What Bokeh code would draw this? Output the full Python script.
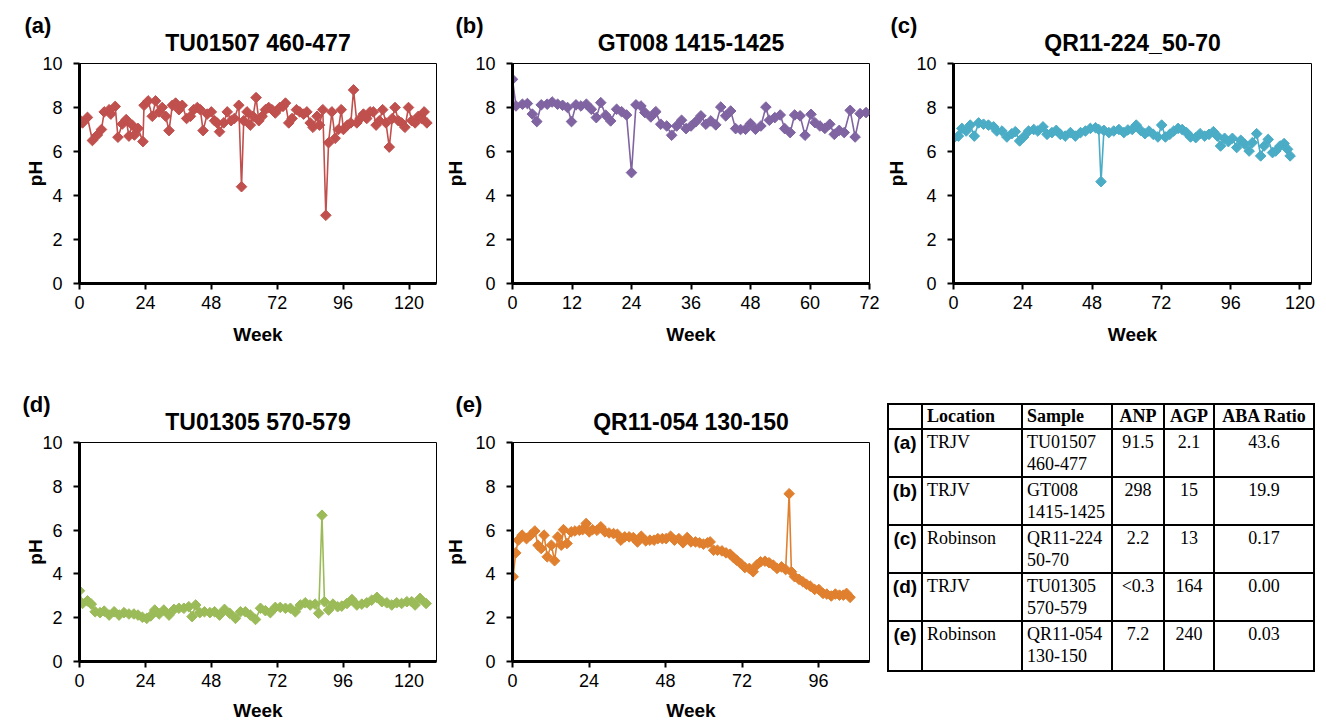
from bokeh.plotting import figure
from bokeh.layouts import row, column
from bokeh.models import Range1d, FixedTicker, Title, Div, LinearAxis
from bokeh.embed import file_html
from bokeh.resources import INLINE

# ---------------- data ----------------
a_week = [0, 1.1, 2.9, 4.7, 6.5, 8.0, 9.0, 10.8, 11.4, 13.0,
          14.0, 15.6, 17.0, 18.0, 19.2, 20.0, 21.3, 23.1, 23.5, 25.0,
          26.5, 27.7, 29.0, 30.1, 31.4, 32.6, 33.8, 35.0, 36.2, 37.4,
          39.0, 40.4, 41.6, 42.9, 44.0, 45.0, 46.5, 48.0, 49.2, 50.1,
          51.0, 52.5, 53.8, 55.2, 56.4, 58.0, 59.0, 59.8, 61.0, 62.2,
          63.2, 64.3, 65.3, 66.5, 67.7, 68.9, 70.1, 71.3, 72.9, 74.1,
          75.0, 76.2, 77.4, 79.0, 80.2, 81.6, 82.8, 84.0, 85.0, 86.5,
          87.4, 88.6, 89.7, 90.7, 91.9, 93.1, 94.3, 95.3, 96.1, 97.6,
          98.8, 99.8, 101.0, 102.2, 103.4, 104.6, 105.8, 107.0, 108.0, 109.2,
          110.4, 111.6, 112.8, 113.9, 114.9, 116.1, 117.3, 118.5, 119.8, 121.0,
          122.2, 123.4, 124.6, 125.5, 126.5]
a_ph = [7.45, 7.3, 7.55, 6.5, 6.75, 7.0, 7.8, 7.9, 7.7, 8.05,
        6.65, 7.25, 7.45, 6.7, 7.2, 6.75, 7.05, 6.45, 8.1, 8.3,
        7.6, 8.3, 7.8, 8.0, 7.6, 6.95, 8.1, 8.2, 7.9, 8.1,
        7.5, 7.6, 7.9, 8.0, 7.9, 6.95, 7.7, 7.8, 7.4, 7.3,
        6.9, 7.3, 7.8, 7.4, 7.5, 8.1, 4.4, 7.4, 7.8, 7.2,
        7.6, 8.45, 7.4, 7.6, 7.9, 8.0, 7.9, 7.75, 8.0, 8.05,
        8.2, 7.3, 7.5, 7.9, 7.8, 7.7, 7.8, 7.3, 7.1, 7.6,
        7.2, 7.9, 3.1, 6.4, 7.8, 6.6, 7.0, 7.9, 7.0, 7.2,
        7.3, 8.8, 7.3, 7.5, 7.7, 7.5, 7.8, 7.8, 7.2, 7.4,
        7.9, 7.3, 6.2, 7.5, 8.0, 7.4, 7.3, 7.1, 8.0, 7.4,
        7.3, 7.6, 7.5, 7.8, 7.3]

b_week = [0, 0.7, 2, 3, 4, 4.9, 5.8, 7, 8, 9.1,
          10.1, 11.1, 11.9, 12.8, 13.8, 14.9, 15.9, 16.9, 17.8, 18.8,
          19.8, 21, 22, 23, 24, 24.9, 25.9, 26.7, 27.9, 28.9,
          29.9, 31.1, 32.1, 33.1, 34.1, 35, 36, 37, 38, 39,
          40, 41, 42, 43, 44, 45, 46, 47, 48, 49,
          50.1, 51.1, 51.8, 52.9, 54, 54.9, 56, 56.9, 58, 59,
          60.2, 61, 62, 63, 64, 64.9, 65.9, 66.9, 68.1, 69.1,
          70.1, 71.3]
b_ph = [9.28, 8.07, 8.15, 8.18, 7.7, 7.36, 8.12, 8.15, 8.25, 8.15,
        8.1, 8.0, 7.36, 8.12, 8.07, 8.15, 7.92, 7.54, 8.22, 7.65,
        7.39, 7.92, 7.81, 7.66, 5.04, 8.12, 8.07, 7.77, 7.57, 7.81,
        7.24, 7.16, 6.74, 7.16, 7.42, 7.04, 7.16, 7.36, 7.62, 7.24,
        7.39, 7.21, 8.02, 7.62, 7.84, 7.04, 7.0, 7.01, 7.27, 7.01,
        7.16, 8.02, 7.42, 7.54, 7.66, 7.04, 6.86, 7.66, 7.62, 6.74,
        7.69, 7.31, 7.16, 7.05, 7.24, 6.78, 6.96, 6.86, 7.87, 6.66,
        7.72, 7.77]

c_week = [0, 1.7, 2.9, 4.4, 5.8, 7.2, 8.7, 10.4, 12.1, 13.9,
          15, 16.8, 18.5, 20.2, 21.4, 22.9, 24.3, 26, 27.8, 29.2,
          31, 32.4, 34.1, 35.6, 37, 38.7, 40.5, 42.2, 44, 45.7,
          47.4, 49.2, 50.3, 51.1, 52.1, 53.8, 55.5, 57.3, 59, 60.4,
          61.9, 63.3, 64.8, 66.3, 67.7, 69.2, 70.8, 72.1, 73.4, 74.9,
          76.3, 77.8, 79.2, 80.7, 82.1, 83.9, 85.4, 87, 88.5, 90,
          91.4, 92.5, 93.9, 95.2, 96.6, 98.1, 99.5, 100.9, 102.4, 103.5,
          105, 106.4, 107.6, 109, 110.5, 111.6, 113.1, 114.5, 115.7, 116.6]
c_ph = [6.6, 6.7, 7.05, 6.93, 7.2, 6.7, 7.3, 7.24, 7.2, 7.12,
        6.93, 6.93, 6.66, 6.81, 6.9, 6.48, 6.66, 6.93, 7.0, 6.93,
        7.12, 6.78, 6.86, 6.96, 6.78, 6.7, 6.86, 6.7, 6.86, 6.93,
        7.05, 7.08, 7.0, 4.63, 6.96, 6.86, 6.93, 7.0, 6.86, 6.98,
        7.0, 7.2, 6.96, 6.81, 6.93, 6.78, 6.66, 7.2, 6.66, 6.78,
        6.93, 7.05, 7.0, 6.86, 6.66, 6.63, 6.81, 6.7, 6.78, 6.9,
        6.7, 6.25, 6.6, 6.45, 6.6, 6.18, 6.51, 6.33, 6.02, 6.4,
        6.81, 5.8, 6.25, 6.55, 5.95, 6.02, 6.25, 6.36, 6.1, 5.8]

d_week = [0, 1.1, 2.9, 4.3, 5.7, 7.5, 9, 10.8, 12.6, 14.4,
          16.2, 18, 19.8, 21.3, 22.9, 24.5, 25.9, 27.4, 29, 30.7,
          32.6, 34.4, 36.2, 38, 39.8, 41, 42.3, 43.8, 45.5, 47.5,
          49.2, 51, 52.8, 54.7, 56.8, 58.6, 60.4, 62.2, 64.1, 65.9,
          67.7, 69.5, 71.3, 73.1, 75, 76.8, 78.6, 80.4, 82.2, 84,
          85.8, 87.1, 88.3, 89.2, 90.7, 92.3, 94, 95.5, 97.4, 99.2,
          101, 102.8, 104.6, 106.4, 108.3, 110.1, 111.9, 113.7, 115.5, 117.3,
          119.2, 121, 122.2, 124, 126.2]
d_ph = [3.23, 2.65, 2.77, 2.62, 2.27, 2.23, 2.3, 2.12, 2.27, 2.12,
        2.23, 2.17, 2.17, 2.12, 2.02, 1.97, 2.08, 2.35, 2.17, 2.35,
        2.12, 2.38, 2.43, 2.43, 2.5, 2.05, 2.58, 2.23, 2.27, 2.23,
        2.27, 2.12, 2.38, 2.2, 1.97, 2.27, 2.27, 2.12, 1.92, 2.43,
        2.32, 2.23, 2.47, 2.47, 2.43, 2.43, 2.27, 2.58, 2.68, 2.58,
        2.62, 2.2, 6.68, 2.73, 2.35, 2.62, 2.5, 2.53, 2.65, 2.83,
        2.58, 2.62, 2.68, 2.8, 2.93, 2.73, 2.68, 2.58, 2.68, 2.65,
        2.73, 2.73, 2.58, 2.88, 2.65]

e_week = [0.2, 1, 1.8, 3, 4.4, 5.7, 7, 8, 9, 9.9,
          10.9, 12.2, 13.2, 14.2, 15.3, 16, 17.1, 18.4, 19.6, 21,
          22, 23.1, 24.1, 25.1, 26.5, 27.7, 29, 30.3, 31.7, 32.9,
          34, 35.2, 36.6, 37.9, 39.2, 40.4, 41.8, 43.1, 44.4, 45.6,
          47, 48.2, 49.6, 50.8, 52.2, 53.5, 54.8, 56, 57.4, 58.7,
          59.9, 61.2, 62, 63.1, 64.3, 65.7, 67, 68.3, 69.3, 70.3,
          71.6, 72.9, 74.3, 75.5, 76.6, 77.8, 79.2, 80.5, 81.8, 83,
          84.4, 85.7, 86.8, 87.5, 88.5, 89.9, 91.1, 92.2, 93.4, 94.8,
          96.1, 97.4, 98.6, 100, 101.3, 102.6, 103.8, 104.8, 105.9]
e_ph = [3.87, 4.96, 5.54, 5.77, 5.61, 5.77, 5.96, 5.31, 5.16, 5.77,
        4.78, 5.31, 4.6, 5.69, 5.31, 6.02, 5.39, 5.92, 5.96, 5.99,
        6.02, 6.3, 5.92, 6.02, 5.99, 6.15, 5.92, 5.87, 5.84, 5.81,
        5.54, 5.69, 5.69, 5.66, 5.46, 5.72, 5.51, 5.54, 5.54, 5.61,
        5.61, 5.61, 5.72, 5.54, 5.61, 5.42, 5.66, 5.46, 5.46, 5.42,
        5.36, 5.42, 5.46, 5.08, 5.08, 5.05, 4.96, 4.9, 4.75, 4.63,
        4.47, 4.29, 4.25, 4.1, 4.4, 4.55, 4.58, 4.51, 4.4, 4.25,
        4.32, 4.2, 7.66, 4.1, 3.87, 3.75, 3.64, 3.53, 3.44, 3.29,
        3.29, 3.11, 3.08, 2.99, 3.08, 3.03, 3.03, 3.11, 2.93]

panel_letters = ["(a)", "(b)", "(c)", "(d)", "(e)"]
panel_titles = ["TU01507 460-477", "GT008 1415-1425", "QR11-224_50-70",
                "TU01305 570-579", "QR11-054 130-150"]
y_ticks = [0, 2, 4, 6, 8, 10]
x_ticks_a = [0, 24, 48, 72, 96, 120]
x_ticks_b = [0, 12, 24, 36, 48, 60, 72]
x_ticks_c = [0, 24, 48, 72, 96, 120]
x_ticks_d = [0, 24, 48, 72, 96, 120]
x_ticks_e = [0, 24, 48, 72, 96]

tbl_header = ["", "Location", "Sample", "ANP", "AGP", "ABA Ratio"]
tbl_ids = ["(a)", "(b)", "(c)", "(d)", "(e)"]
tbl_location = ["TRJV", "TRJV", "Robinson", "TRJV", "Robinson"]
tbl_sample_1 = ["TU01507", "GT008", "QR11-224", "TU01305", "QR11-054"]
tbl_sample_2 = ["460-477", "1415-1425", "50-70", "570-579", "130-150"]
tbl_anp = ["91.5", "298", "2.2", "<0.3", "7.2"]
tbl_agp = ["2.1", "15", "13", "164", "240"]
tbl_aba = ["43.6", "19.9", "0.17", "0.00", "0.03"]

# ---------------- styling ----------------
SANS = "Liberation Sans"
SERIF = "Liberation Serif"


def panel(weeks, ph, color, letter, title, xmax, xticks, width, height,
          bl, br, bt, bb, letter_dx, ylab_standoff, xlab_standoff):
    p = figure(width=width, height=height, x_range=Range1d(0, xmax),
               y_range=Range1d(0, 10), output_backend="svg",
               toolbar_location=None, title=None,
               min_border_left=bl, min_border_right=br,
               min_border_top=bt, min_border_bottom=bb)
    p.grid.visible = False
    p.outline_line_color = "black"
    p.outline_line_width = 1
    p.xaxis.ticker = FixedTicker(ticks=xticks)
    p.yaxis.ticker = FixedTicker(ticks=y_ticks)
    p.xaxis.axis_label = "Week"
    p.yaxis.axis_label = "pH"
    for ax in (p.xaxis[0], p.yaxis[0]):
        ax.axis_line_width = 3
        ax.axis_line_color = "black"
        ax.major_tick_line_width = 2
        ax.major_tick_line_color = "black"
        ax.major_tick_out = 6
        ax.major_tick_in = 0
        ax.minor_tick_line_color = None
        ax.major_label_text_font = SANS
        ax.major_label_text_font_size = "18px"
        ax.major_label_text_color = "black"
        ax.axis_label_text_font = SANS
        ax.axis_label_text_font_style = "bold"
        ax.axis_label_text_font_size = "19px"
        ax.axis_label_text_color = "black"
    p.yaxis.major_label_standoff = 11
    p.xaxis.major_label_standoff = 6
    p.yaxis.axis_label_standoff = ylab_standoff
    p.xaxis.axis_label_standoff = xlab_standoff

    p.line(weeks, ph, line_color=color, line_width=1.6)
    p.scatter(weeks, ph, marker="square", size=7.5, angle=0.7854,
              fill_color=color, line_color=color)

    # chart title: label of a bare axis above the frame (centred on the frame)
    tax = LinearAxis(ticker=FixedTicker(ticks=[]), axis_label=title,
                     axis_line_color=None, major_tick_line_color=None,
                     minor_tick_line_color=None, major_tick_out=0,
                     major_tick_in=0, minor_tick_out=0, minor_tick_in=0,
                     major_label_text_font_size="0px", axis_label_standoff=8,
                     axis_label_text_font=SANS, axis_label_text_font_size="23px",
                     axis_label_text_font_style="bold",
                     axis_label_text_color="black")
    p.add_layout(tax, "above")
    # panel letter, left of the frame
    p.add_layout(Title(text=letter, align="left", offset=letter_dx, standoff=-23,
                       text_font=SANS, text_font_size="22px",
                       text_font_style="bold", text_color="black"), "above")
    return p


H1, H2 = 360, 363
pa = panel(a_week, a_ph, "#C0504D", panel_letters[0], panel_titles[0], 130, x_ticks_a,
           440, H1, 79, 4, 63, 77, -55, -7, 12)
pb = panel(b_week, b_ph, "#8064A2", panel_letters[1], panel_titles[1], 72, x_ticks_b,
           442, H1, 72, 13, 63, 77, -57, 6, 12)
pc = panel(c_week, c_ph, "#4BACC6", panel_letters[2], panel_titles[2], 124, x_ticks_c,
           444, H1, 71, 15, 63, 77, -63, 6, 12)
pd_ = panel(d_week, d_ph, "#9BBB59", panel_letters[3], panel_titles[3], 130, x_ticks_d,
            440, H2, 79, 4, 82, 62, -57, -7, 10)
pe = panel(e_week, e_ph, "#E0802F", panel_letters[4], panel_titles[4], 112, x_ticks_e,
           442, H2, 72, 13, 82, 62, -57, 6, 10)

# ---------------- table (HTML, built from the lists above) ----------------
col_w = [34, 100, 90, 52, 50, 100]
row_h = [25, 48, 48, 48, 48, 50]
cell = ("border:2px solid black;padding:0 4px;font-family:'Liberation Serif';"
        "font-size:18px;line-height:21.6px;color:black;overflow:hidden;")
html = ['<table style="border-collapse:collapse;table-layout:fixed;'
        'margin:43px 0 0 5px;width:426px;">']
html.append("<colgroup>" + "".join(f'<col style="width:{w}px">' for w in col_w) + "</colgroup>")
hdr = [f'<td style="{cell}height:{row_h[0]}px;vertical-align:middle;'
       f'font-weight:bold;text-align:{"left" if i < 3 else "center"};">{h}</td>'
       for i, h in enumerate(tbl_header)]
html.append(f'<tr style="height:{row_h[0]}px">' + "".join(hdr) + "</tr>")
for i in range(len(tbl_ids)):
    h = row_h[i + 1]
    tds = [
        f'<td style="{cell}height:{h}px;vertical-align:top;text-align:center;'
        f"font-family:'Liberation Sans';font-weight:bold;font-size:19px;padding:2px 0 0 0;\">{tbl_ids[i]}</td>",
        f'<td style="{cell}height:{h}px;vertical-align:top;padding-top:2px;">{tbl_location[i]}</td>',
        f'<td style="{cell}height:{h}px;vertical-align:top;padding-top:2px;">{tbl_sample_1[i]}<br>{tbl_sample_2[i]}</td>',
        f'<td style="{cell}height:{h}px;vertical-align:top;padding-top:2px;text-align:center;">{tbl_anp[i].replace("<", "&lt;")}</td>',
        f'<td style="{cell}height:{h}px;vertical-align:top;padding-top:2px;text-align:center;">{tbl_agp[i]}</td>',
        f'<td style="{cell}height:{h}px;vertical-align:top;padding-top:2px;text-align:center;">{tbl_aba[i]}</td>',
    ]
    html.append(f'<tr style="height:{h}px">' + "".join(tds) + "</tr>")
html.append("</table>")
pt = Div(text="".join(html), width=444, height=H2, margin=0)

layout = column(row(pa, pb, pc), row(pd_, pe, pt))
open("out.html", "w").write(file_html(layout, INLINE))
